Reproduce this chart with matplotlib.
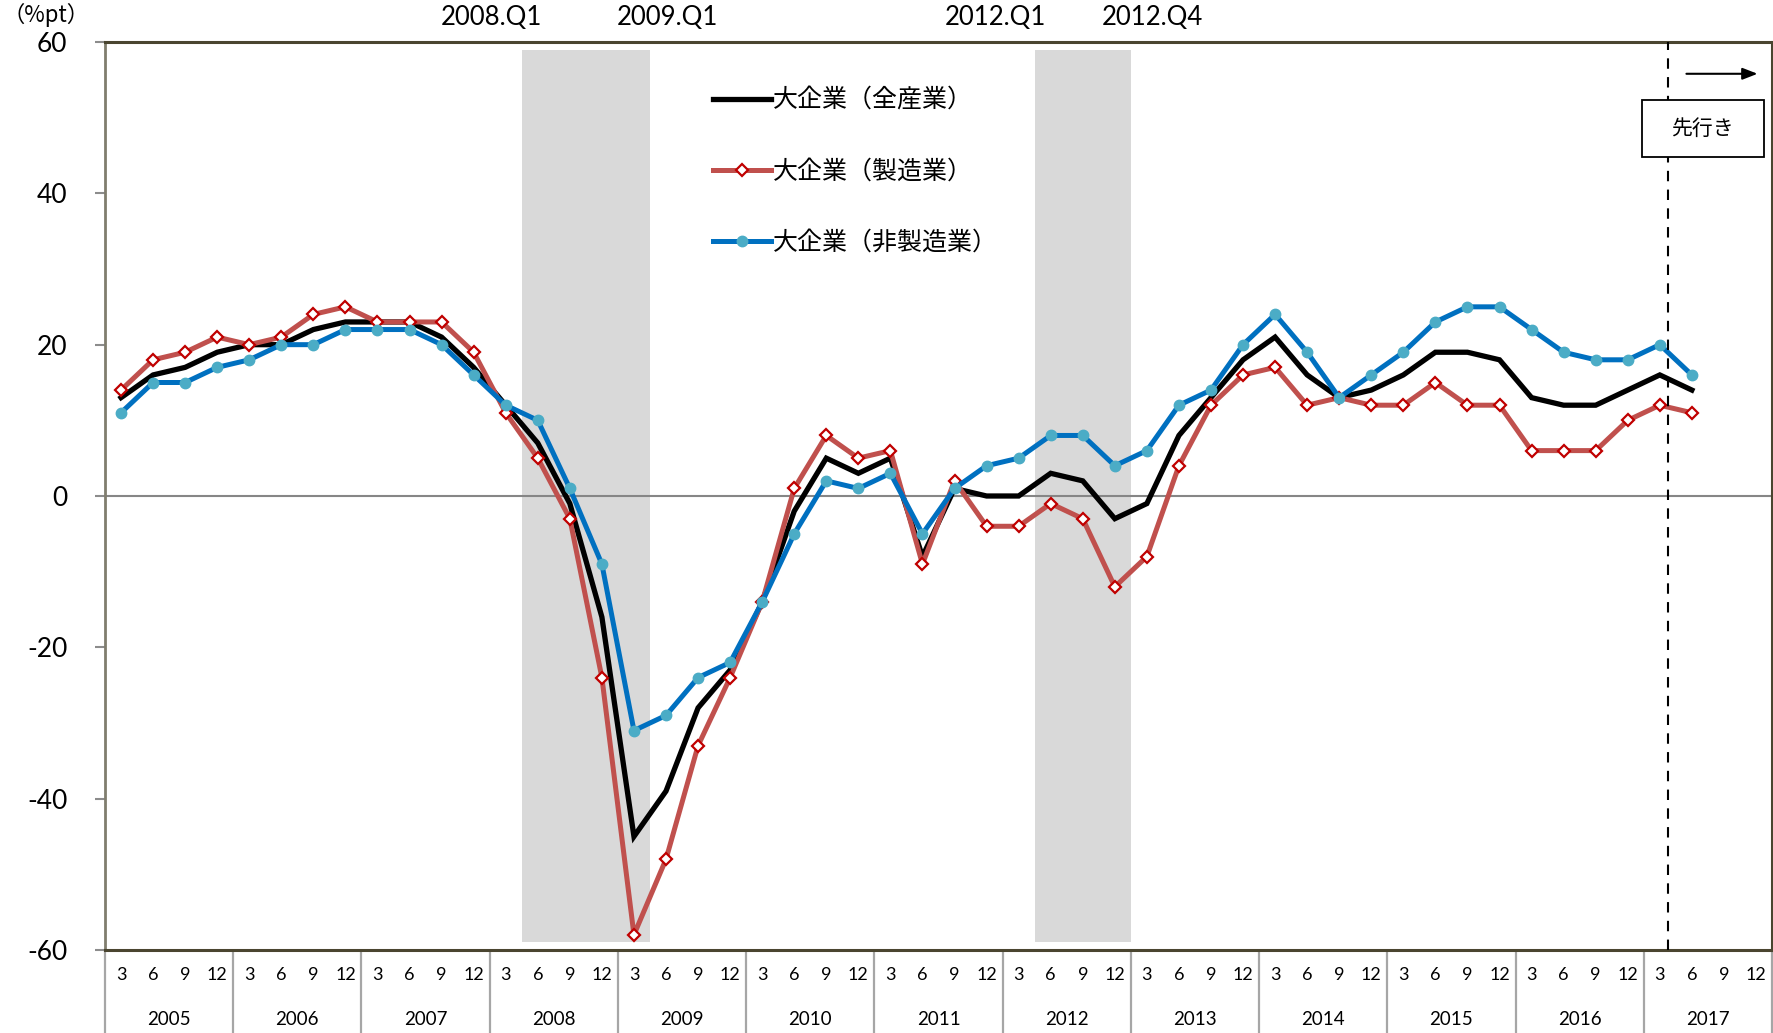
import matplotlib
matplotlib.use("Agg")
import matplotlib.pyplot as plt
from matplotlib.patches import Rectangle
import matplotlib.transforms as mtransforms

# ---------------- data ----------------
years = [str(y) for y in range(2005, 2018)]
months = ["3", "6", "9", "12"]

all_industries = [13, 16, 17, 19, 20, 20, 22, 23, 23, 23, 21, 17,
                  12, 7, -1, -16, -45, -39, -28, -23, -14, -2, 5, 3,
                  5, -8, 1, 0, 0, 3, 2, -3, -1, 8, 13, 18,
                  21, 16, 13, 14, 16, 19, 19, 18, 13, 12, 12, 14,
                  16, 14]
manufacturing = [14, 18, 19, 21, 20, 21, 24, 25, 23, 23, 23, 19,
                 11, 5, -3, -24, -58, -48, -33, -24, -14, 1, 8, 5,
                 6, -9, 2, -4, -4, -1, -3, -12, -8, 4, 12, 16,
                 17, 12, 13, 12, 12, 15, 12, 12, 6, 6, 6, 10,
                 12, 11]
non_manufacturing = [11, 15, 15, 17, 18, 20, 20, 22, 22, 22, 20, 16,
                     12, 10, 1, -9, -31, -29, -24, -22, -14, -5, 2, 1,
                     3, -5, 1, 4, 5, 8, 8, 4, 6, 12, 14, 20,
                     24, 19, 13, 16, 19, 23, 25, 25, 22, 19, 18, 18,
                     20, 16]

labels = ["大企業（全産業）", "大企業（製造業）", "大企業（非製造業）"]
shade_labels = ["2008.Q1", "2009.Q1", "2012.Q1", "2012.Q4"]
forecast_label = "先行き"
unit_label = "（%pt）"

# ---------------- layout ----------------
JP = ["Noto Sans CJK JP", "DejaVu Sans"]
NUM = ["Lato", "DejaVu Sans"]
plt.rcParams["font.family"] = JP

n_cat = len(years) * len(months)
x_all = list(range(n_cat))
x_data = x_all[:len(all_industries)]
tick_labels = months * len(years)

fig = plt.figure(figsize=(17.74, 10.33), dpi=100)
ax = fig.add_axes([105 / 1774, 1 - 950 / 1033, 1667 / 1774, 908 / 1033])

ax.set_xlim(-0.5, n_cat - 0.5)
ax.set_ylim(-60, 60)

# shaded periods
for (a, b) in [(12.5, 16.5), (28.5, 31.5)]:
    ax.fill_between([a, b], -59, 59, color="#d9d9d9", lw=0, zorder=0)

ax.axhline(0, color="#868686", lw=1.5, zorder=1)

l1, = ax.plot(x_data, all_industries, color="black", lw=3.8, zorder=3,
              solid_joinstyle="miter")
l2, = ax.plot(x_data, manufacturing, color="#c0504d", lw=3.6, zorder=4,
              marker="D", markersize=6.5, markerfacecolor="white",
              markeredgecolor="#c00000", markeredgewidth=1.6)
l3, = ax.plot(x_data, non_manufacturing, color="#0070c0", lw=3.6, zorder=5,
              marker="o", markersize=7.5, markerfacecolor="#4bacc6",
              markeredgecolor="#4bacc6")

# forecast dashed line
ax.axvline(48.25, color="black", lw=1.5, ls=(0, (5, 4)), zorder=6)

# spines
for s in ["top", "bottom", "right"]:
    ax.spines[s].set_color("#4a4530")
    ax.spines[s].set_linewidth(2.2)
ax.spines["left"].set_color("#807d6e")
ax.spines["left"].set_linewidth(2.0)

# y ticks
ax.set_yticks(range(-60, 61, 20))
ax.set_yticklabels([str(v) for v in range(-60, 61, 20)], fontfamily=NUM,
                   fontsize=19)
ax.tick_params(axis="y", length=7, width=1.5, color="#8c8c8c", pad=20)

# x ticks
ax.set_xticks(x_all)
ax.set_xticklabels(tick_labels, fontfamily=NUM, fontsize=13)
ax.tick_params(axis="x", which="major", length=0, pad=12)
ax.set_xticks([i * 4 - 0.5 for i in range(len(years) + 1)], minor=True)
ax.tick_params(axis="x", which="minor", length=61, width=1.6,
               color="#a6a6a6")

trans = mtransforms.blended_transform_factory(ax.transData, ax.transAxes)
for i, yr in enumerate(years):
    ax.text(i * 4 + 1.5, -0.0765, yr, transform=trans, ha="center",
            va="center", fontsize=13.5, fontfamily=NUM)

# shade labels
for xpos, txt in zip([11.57, 17.03, 27.29, 32.16], shade_labels):
    ax.text(xpos, 1.0275, txt, transform=trans, ha="center", va="center",
            fontsize=18.5, fontfamily=NUM)

# unit label
fig.text(2 / 1774, 1 - 15 / 1033, unit_label, ha="left", va="center",
         fontsize=16, fontfamily=JP)

# forecast box and arrow
ax.add_patch(Rectangle((0.922, 0.873), 0.073, 0.063, transform=ax.transAxes,
                       facecolor="white", edgecolor="black", lw=1.3,
                       zorder=7, clip_on=False))
ax.text(0.9585, 0.9045, forecast_label, transform=ax.transAxes, ha="center",
        va="center", fontsize=15, zorder=8)
ax.annotate("", xy=(0.993, 0.965), xytext=(0.947, 0.965),
            xycoords="axes fraction",
            arrowprops=dict(arrowstyle="-|>,head_length=0.9,head_width=0.35",
                            color="black", lw=1.5), zorder=8)

# legend
leg = ax.legend([l1, l2, l3], labels, loc="upper left",
                bbox_to_anchor=(0.359, 0.961), frameon=False, fontsize=18,
                handlelength=2.3, handletextpad=0.08, labelspacing=1.8,
                numpoints=1, borderaxespad=0)

fig.savefig("out.png", dpi=100)
